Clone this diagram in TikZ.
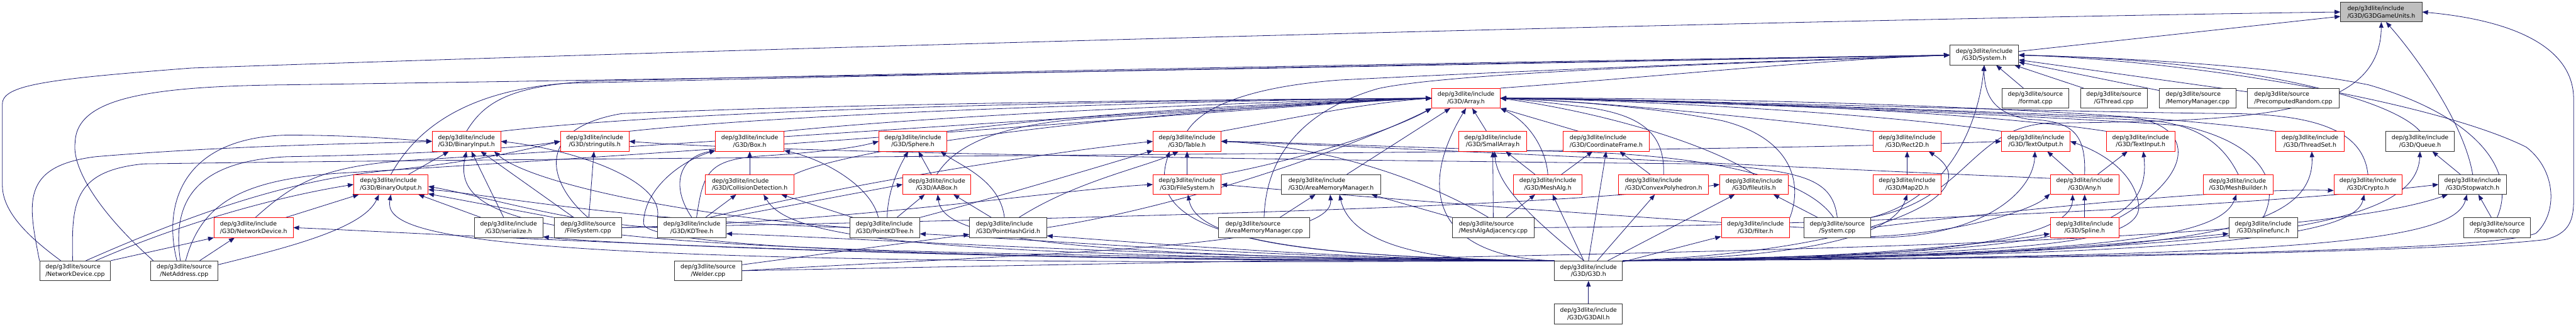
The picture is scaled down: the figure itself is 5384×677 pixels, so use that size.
\documentclass[tikz,border=0pt]{standalone}
\usepackage{fontspec}
\usepackage{xcolor}
\usepackage{tikz}
\usetikzlibrary{arrows.meta,calc}
\newfontfamily\doxfont{DejaVu Sans}
\definecolor{edgeblue}{HTML}{191970}
\pgfdeclarelayer{edges}
\pgfsetlayers{edges,main}

\begin{document}
\begin{tikzpicture}[
        x=0.03cm, y=0.03cm,
        % Styles
        incl/.style={
            rectangle,
            draw=black!80,
            fill=white,
            line width=0.9pt,
            minimum height=1.23cm,
            inner sep=2pt,
            align=center,
            font=\doxfont\fontsize{10.5}{13.3}\selectfont
        },
        trunc/.style={incl, draw=red},
        root/.style={incl, fill=black!25},
        flush/.style={align=left},
        dep/.style={
            -{Triangle[length=0.36cm,width=0.28cm]},
            draw=edgeblue,
            line width=0.9pt
        }
    ]
    \useasboundingbox (0,0) rectangle (5384,677);

    % Row 1
    \node[root, flush, minimum width=5.1cm] (gu) at (4977,652) {dep/g3dlite/include\\/G3D/G3DGameUnits.h};

    % Row 2
    \node[incl, minimum width=4.29cm] (sysh) at (4147,562) {dep/g3dlite/include\\/G3D/System.h};

    % Row 3
    \node[trunc, minimum width=4.29cm] (arr) at (3064,472) {dep/g3dlite/include\\/G3D/Array.h};
    \node[incl, minimum width=4.2cm] (fmt) at (4254,472) {dep/g3dlite/source\\/format.cpp};
    \node[incl, minimum width=4.17cm] (gthr) at (4418,472) {dep/g3dlite/source\\/GThread.cpp};
    \node[incl, flush, minimum width=4.8cm] (memm) at (4593,472) {dep/g3dlite/source\\/MemoryManager.cpp};
    \node[incl, flush, minimum width=5.76cm] (prnd) at (4793,472) {dep/g3dlite/source\\/PrecomputedRandom.cpp};

    % Row 4
    \node[trunc, minimum width=4.29cm] (bin) at (975,382) {dep/g3dlite/include\\/G3D/BinaryInput.h};
    \node[trunc, minimum width=4.29cm] (stru) at (1243,382) {dep/g3dlite/include\\/G3D/stringutils.h};
    \node[trunc, minimum width=4.29cm] (box) at (1567,382) {dep/g3dlite/include\\/G3D/Box.h};
    \node[trunc, minimum width=4.26cm] (sph) at (1908,382) {dep/g3dlite/include\\/G3D/Sphere.h};
    \node[trunc, minimum width=4.26cm] (tbl) at (2481,382) {dep/g3dlite/include\\/G3D/Table.h};
    \node[trunc, minimum width=4.26cm] (sarr) at (3120,382) {dep/g3dlite/include\\/G3D/SmallArray.h};
    \node[trunc, flush, minimum width=5.4cm] (cf) at (3357,382) {dep/g3dlite/include\\/G3D/CoordinateFrame.h};
    \node[trunc, minimum width=4.29cm] (r2d) at (3986,382) {dep/g3dlite/include\\/G3D/Rect2D.h};
    \node[trunc, minimum width=4.29cm] (tout) at (4255,382) {dep/g3dlite/include\\/G3D/TextOutput.h};
    \node[trunc, minimum width=4.29cm] (tin) at (4474,382) {dep/g3dlite/include\\/G3D/TextInput.h};
    \node[trunc, minimum width=4.29cm] (tset) at (4828,382) {dep/g3dlite/include\\/G3D/ThreadSet.h};
    \node[incl, minimum width=4.29cm] (que) at (5058,382) {dep/g3dlite/include\\/G3D/Queue.h};

    % Row 5
    \node[trunc, flush, minimum width=4.65cm] (bout) at (817,292) {dep/g3dlite/include\\/G3D/BinaryOutput.h};
    \node[trunc, flush, minimum width=5.55cm] (coll) at (1567,292) {dep/g3dlite/include\\/G3D/CollisionDetection.h};
    \node[trunc, minimum width=4.26cm] (aab) at (1958,292) {dep/g3dlite/include\\/G3D/AABox.h};
    \node[trunc, minimum width=4.26cm] (fsh) at (2481,292) {dep/g3dlite/include\\/G3D/FileSystem.h};
    \node[incl, flush, minimum width=6.21cm] (amm) at (2782,292) {dep/g3dlite/include\\/G3D/AreaMemoryManager.h};
    \node[trunc, minimum width=4.29cm] (malg) at (3235,292) {dep/g3dlite/include\\/G3D/MeshAlg.h};
    \node[trunc, flush, minimum width=5.64cm] (cpoly) at (3477,292) {dep/g3dlite/include\\/G3D/ConvexPolyhedron.h};
    \node[trunc, minimum width=4.29cm] (futil) at (3666,292) {dep/g3dlite/include\\/G3D/fileutils.h};
    \node[trunc, minimum width=4.29cm] (m2d) at (3986,292) {dep/g3dlite/include\\/G3D/Map2D.h};
    \node[trunc, minimum width=4.32cm] (any) at (4357,292) {dep/g3dlite/include\\/G3D/Any.h};
    \node[trunc, flush, minimum width=4.41cm] (mb) at (4678,292) {dep/g3dlite/include\\/G3D/MeshBuilder.h};
    \node[trunc, minimum width=4.26cm] (cry) at (4949,292) {dep/g3dlite/include\\/G3D/Crypto.h};
    \node[incl, minimum width=4.26cm] (swh) at (5168,292) {dep/g3dlite/include\\/G3D/Stopwatch.h};

    % Row 6
    \node[trunc, flush, minimum width=4.95cm] (ndh) at (530,202) {dep/g3dlite/include\\/G3D/NetworkDevice.h};
    \node[incl, minimum width=4.29cm] (ser) at (1063,202) {dep/g3dlite/include\\/G3D/serialize.h};
    \node[incl, minimum width=4.2cm] (fscpp) at (1229,202) {dep/g3dlite/source\\/FileSystem.cpp};
    \node[incl, minimum width=4.29cm] (kd) at (1446,202) {dep/g3dlite/include\\/G3D/KDTree.h};
    \node[incl, flush, minimum width=4.38cm] (pkd) at (1849,202) {dep/g3dlite/include\\/G3D/PointKDTree.h};
    \node[incl, flush, minimum width=4.83cm] (phg) at (2107,202) {dep/g3dlite/include\\/G3D/PointHashGrid.h};
    \node[incl, flush, minimum width=5.7cm] (ammcpp) at (2642,202) {dep/g3dlite/source\\/AreaMemoryManager.cpp};
    \node[incl, flush, minimum width=5.1cm] (maa) at (3121,202) {dep/g3dlite/source\\/MeshAlgAdjacency.cpp};
    \node[trunc, minimum width=4.29cm] (filt) at (3669,202) {dep/g3dlite/include\\/G3D/filter.h};
    \node[incl, minimum width=4.17cm] (syscpp) at (3840,202) {dep/g3dlite/source\\/System.cpp};
    \node[trunc, minimum width=4.32cm] (spl) at (4357,202) {dep/g3dlite/include\\/G3D/Spline.h};
    \node[incl, minimum width=4.29cm] (sfunc) at (4730,202) {dep/g3dlite/include\\/G3D/splinefunc.h};
    \node[incl, minimum width=4.2cm] (swcpp) at (5219,202) {dep/g3dlite/source\\/Stopwatch.cpp};

    % Row 7
    \node[incl, flush, minimum width=4.44cm] (ndcpp) at (157,112) {dep/g3dlite/source\\/NetworkDevice.cpp};
    \node[incl, minimum width=4.2cm] (nacpp) at (385,112) {dep/g3dlite/source\\/NetAddress.cpp};
    \node[incl, minimum width=4.2cm] (weld) at (1480,112) {dep/g3dlite/source\\/Welder.cpp};
    \node[incl, minimum width=4.26cm] (g3dh) at (3320,112) {dep/g3dlite/include\\/G3D/G3D.h};

    % Row 8
    \node[incl, minimum width=4.26cm] (all) at (3320,22) {dep/g3dlite/include\\/G3D/G3DAll.h};

    \begin{pgfonlayer}{edges}
    % into G3DGameUnits.h
    \draw[dep] (sysh) -- (gu);
    \draw[dep] (ndcpp.145) .. controls (70,175) and (5,230) .. (5,290) -- (5,460) .. controls (5,500) and (100,512) .. (400,535) .. controls (2000,590) and (4000,640) .. (gu.west);
    \draw[dep] (syscpp.north east) .. controls (4110,260) and (4120,410) .. (4280,420) .. controls (4700,425) and (4975,430) .. (gu.south);
    \draw[dep] (swh.north) .. controls (5150,420) and (5050,560) .. (gu.-65);
    \draw[dep] (g3dh.north east) .. controls (4200,135) and (5100,150) .. (5320,177) .. controls (5372,190) and (5379,220) .. (5379,260) -- (5379,470) .. controls (5379,580) and (5250,635) .. (gu.east);

    % into System.h
    \draw[dep] (fmt) -- (sysh);
    \draw[dep] (gthr) -- (sysh);
    \draw[dep] (memm) -- (sysh);
    \draw[dep] (prnd) -- (sysh);
    \draw[dep] (que.north) .. controls (5000,470) and (4700,552) .. (sysh.east);
    \draw[dep] (swcpp.north) .. controls (5265,330) and (5160,440) .. (4950,500) .. controls (4750,540) and (4450,556) .. (sysh.east);
    \draw[dep] (g3dh.north east) .. controls (4300,140) and (5200,150) .. (5300,190) .. controls (5345,230) and (5345,320) .. (5280,370) .. controls (5100,460) and (4600,550) .. (sysh.east);
    \draw[dep] (any.north) .. controls (4360,400) and (4330,425) .. (4240,428) .. controls (4165,440) and (4147,480) .. (sysh.south);
    \draw[dep] (syscpp.north east) .. controls (4075,265) and (4135,420) .. (sysh.south);
    \draw[dep] (arr.north east) .. controls (3500,520) and (3800,552) .. (sysh.west);
    \draw[dep] (bin.north) .. controls (1010,460) and (1060,500) .. (1250,508) .. controls (2600,540) and (3800,558) .. (sysh.west);
    \draw[dep] (bout.north) .. controls (860,390) and (950,485) .. (1180,503) .. controls (2600,538) and (3800,556) .. (sysh.west);
    \draw[dep] (nacpp.162) .. controls (200,240) and (150,330) .. (157,380) .. controls (160,470) and (300,497) .. (600,500) .. controls (2000,520) and (3700,555) .. (sysh.west);
    \draw[dep] (tbl.north) .. controls (2510,450) and (2600,495) .. (2800,510) .. controls (3300,535) and (3800,553) .. (sysh.west);
    \draw[dep] (ammcpp.north) .. controls (2645,330) and (2700,440) .. (2880,492) .. controls (3050,530) and (3800,550) .. (sysh.west);

    % into Array.h
    \draw[dep] (bin.north east) .. controls (1500,455) and (2500,468) .. (arr.west);
    \draw[dep] (stru.north east) .. controls (1700,445) and (2600,470) .. (arr.west);
    \draw[dep] (box.north east) .. controls (2000,440) and (2700,468) .. (arr.west);
    \draw[dep] (sph.north east) .. controls (2300,445) and (2750,466) .. (arr.west);
    \draw[dep] (tbl.north east) .. controls (2700,430) and (2850,462) .. (arr.west);
    \draw[dep] (aab.north) .. controls (2000,380) and (2100,420) .. (2300,432) .. controls (2600,450) and (2850,466) .. (arr.west);
    \draw[dep] (ndh.80) .. controls (620,300) and (680,335) .. (900,345) .. controls (1800,400) and (2700,465) .. (arr.west);
    \draw[dep] (nacpp.82) .. controls (420,250) and (500,300) .. (700,315) .. controls (1800,380) and (2700,460) .. (arr.west);
    \draw[dep] (fscpp.north) .. controls (1140,300) and (1120,410) .. (1300,440) .. controls (1900,465) and (2700,470) .. (arr.west);
    \draw[dep] (coll.north east) .. controls (1800,380) and (2500,455) .. (arr.west);
    \draw[dep] (fsh.north east) .. controls (2700,340) and (2900,400) .. (arr.south west);
    \draw[dep] (phg.east) .. controls (2500,250) and (2850,380) .. (arr.south west);
    \draw[dep] (g3dh.north west) .. controls (3000,140) and (2960,280) .. (arr.south);
    \draw[dep] (amm) -- (arr);
    \draw[dep] (sarr) -- (arr);
    \draw[dep] (malg.north) .. controls (3232,360) and (3200,420) .. (arr.south east);
    \draw[dep] (cf.160) -- (arr.south east);
    \draw[dep] (cpoly.north) .. controls (3480,400) and (3430,440) .. (3300,455) .. controls (3220,465) and (3170,470) .. (arr.east);
    \draw[dep] (futil.north) .. controls (3600,360) and (3400,435) .. (arr.east);
    \draw[dep] (filt.north east) .. controls (3770,300) and (3740,390) .. (3600,425) .. controls (3450,455) and (3250,468) .. (arr.east);
    \draw[dep] (r2d.north west) .. controls (3700,430) and (3300,468) .. (arr.east);
    \draw[dep] (tout.north west) .. controls (3900,445) and (3350,470) .. (arr.east);
    \draw[dep] (tin.north west) .. controls (4100,450) and (3400,472) .. (arr.east);
    \draw[dep] (tset.north west) .. controls (4400,455) and (3500,475) .. (arr.east);
    \draw[dep] (spl.north east) .. controls (4600,320) and (4580,420) .. (4450,432) .. controls (4000,450) and (3400,470) .. (arr.east);
    \draw[dep] (sfunc.north) .. controls (4770,300) and (4720,380) .. (4560,415) .. controls (4200,440) and (3400,470) .. (arr.east);
    \draw[dep] (mb.north) .. controls (4650,370) and (4600,415) .. (4500,425) .. controls (4100,445) and (3400,472) .. (arr.east);
    \draw[dep] (cry.north) .. controls (4940,400) and (4850,440) .. (4650,440) .. controls (4200,445) and (3400,472) .. (arr.east);

    % NetworkDevice.cpp and NetAddress.cpp
    \draw[dep] (ndcpp.north east) -- (ndh.south west);
    \draw[dep] (ndcpp.north west) .. controls (60,250) and (40,330) .. (200,350) .. controls (500,375) and (800,378) .. (bin.west);
    \draw[dep] (ndcpp.104) .. controls (150,250) and (150,320) .. (300,335) .. controls (1500,352) and (3500,355) .. (tout.west);
    \draw[dep] (ndcpp.43) .. controls (400,230) and (600,300) .. (800,320) .. controls (1000,340) and (1100,365) .. (stru.west);
    \draw[dep] (ndcpp.26) .. controls (400,220) and (600,270) .. (bout.west);
    \draw[dep] (nacpp.33) -- (ndh.-152);
    \draw[dep] (nacpp.126) .. controls (340,250) and (380,390) .. (600,395) .. controls (750,395) and (850,385) .. (bin.west);
    \draw[dep] (nacpp.111) .. controls (360,250) and (400,340) .. (600,350) .. controls (900,355) and (1100,370) .. (stru.west);
    \draw[dep] (nacpp.10) .. controls (600,160) and (760,200) .. (bout.-140);
    \draw[dep] (ndh) -- (bout);
    \draw[dep] (bout) -- (bin);

    % FileSystem.cpp, serialize.h
    \draw[dep] (fscpp) -- (bin);
    \draw[dep] (fscpp) -- (stru);
    \draw[dep] (fscpp.north west) -- (bout.-14);
    \draw[dep] (fscpp.east) .. controls (1800,215) and (2200,280) .. (fsh.west);
    \draw[dep] (fscpp.east) .. controls (2500,225) and (3300,250) .. (futil.west);
    \draw[dep] (ser) -- (bin);
    \draw[dep] (ser) -- (bout);

    % KDTree.h, PointKDTree.h, PointHashGrid.h
    \draw[dep] (kd.north) .. controls (1400,290) and (1420,350) .. (box.195);
    \draw[dep] (kd) -- (coll);
    \draw[dep] (kd.65) .. controls (1470,320) and (1480,345) .. (1600,352) .. controls (1750,362) and (1800,372) .. (sph.west);
    \draw[dep] (kd.north east) -- (aab.west);
    \draw[dep] (kd.30) .. controls (1800,300) and (2200,360) .. (tbl.west);
    \draw[dep] (kd.north west) .. controls (1390,300) and (1200,365) .. (bin.east);
    \draw[dep] (kd.west) .. controls (1200,210) and (1000,270) .. (bout.-3);
    \draw[dep] (pkd.76) .. controls (1855,280) and (1880,330) .. (sph.-115);
    \draw[dep] (pkd) -- (aab);
    \draw[dep] (pkd) -- (coll);
    \draw[dep] (pkd.122) .. controls (1820,290) and (1720,345) .. (box.-15);
    \draw[dep] (pkd.north east) .. controls (2100,270) and (2300,330) .. (tbl.195);
    \draw[dep] (pkd.west) .. controls (1400,230) and (1100,300) .. (bin.-20);
    \draw[dep] (pkd.west) .. controls (1300,215) and (1000,275) .. (bout.-8);
    \draw[dep] (phg) -- (aab);
    \draw[dep] (phg.43) .. controls (2250,300) and (2400,330) .. (tbl.-130);
    \draw[dep] (phg.110) .. controls (2090,300) and (2010,330) .. (sph.-20);
    \draw[dep] (coll) -- (box);
    \draw[dep] (aab) -- (sph);
    \draw[dep] (fsh) -- (tbl);

    % memory managers, mesh files
    \draw[dep] (ammcpp) -- (amm);
    \draw[dep] (maa.north) -- (sarr.south);
    \draw[dep] (maa) -- (malg);
    \draw[dep] (maa.north west) -- (amm.-14);
    \draw[dep] (maa.115) .. controls (3000,290) and (2800,370) .. (tbl.east);
    \draw[dep] (maa.east) .. controls (3800,205) and (4700,245) .. (swh.west);
    \draw[dep] (malg) -- (sarr);
    \draw[dep] (malg) -- (cf);
    \draw[dep] (cpoly) -- (cf);
    \draw[dep] (m2d) -- (r2d);

    % Any.h, Spline.h, Stopwatch
    \draw[dep] (spl) -- (any);
    \draw[dep] (any) -- (tout);
    \draw[dep] (any) -- (tin);
    \draw[dep] (any.170) .. controls (3800,325) and (2900,370) .. (tbl.east);
    \draw[dep] (swh) -- (que);
    \draw[dep] (swcpp) -- (swh);

    % System.cpp
    \draw[dep] (syscpp) -- (futil);
    \draw[dep] (syscpp.-15) .. controls (4100,190) and (4250,240) .. (any.-165);
    \draw[dep] (syscpp.south east) .. controls (4150,180) and (4250,280) .. (tout.-95);
    \draw[dep] (syscpp.north) .. controls (3830,300) and (3780,322) .. (3550,335) .. controls (2500,345) and (1600,360) .. (stru.east);
    \draw[dep] (syscpp.110) .. controls (3780,300) and (3600,350) .. (3300,360) .. controls (2900,370) and (2700,380) .. (tbl.east);
    \draw[dep] (syscpp.east) .. controls (4300,250) and (4700,285) .. (cry.190);
    \draw[dep] (syscpp.west) .. controls (3300,230) and (2800,270) .. (fsh.east);

    % Welder.cpp
    \draw[dep] (weld.10) -- (phg.190);
    \draw[dep] (weld.east) .. controls (2200,150) and (2790,160) .. (amm.-95);
    \draw[dep] (weld.east) .. controls (3500,150) and (4800,160) .. (swh.-158);

    % G3D.h, to the left
    \draw[dep] (g3dh.north west) .. controls (1300,150) and (930,170) .. (bin.south);
    \draw[dep] (g3dh.north west) .. controls (1000,118) and (800,180) .. (bout.south);
    \draw[dep] (g3dh.north west) .. controls (2000,125) and (900,190) .. (ndh.east);
    \draw[dep] (g3dh.north west) .. controls (2200,130) and (1300,165) .. (ser.-15);
    \draw[dep] (g3dh.north west) .. controls (2500,135) and (1800,180) .. (kd.-10);
    \draw[dep] (g3dh.north west) .. controls (2700,135) and (2200,175) .. (pkd.-10);
    \draw[dep] (g3dh.north west) .. controls (2800,135) and (2400,170) .. (phg.-12);
    \draw[dep] (g3dh.north west) .. controls (2000,135) and (1350,160) .. (1345,210) .. controls (1345,280) and (1420,340) .. (box.195);
    \draw[dep] (g3dh.north west) .. controls (1900,140) and (1650,180) .. (coll.-36);
    \draw[dep] (g3dh.north west) .. controls (2200,140) and (1970,180) .. (aab.-85);
    \draw[dep] (g3dh.north west) .. controls (2600,140) and (2390,200) .. (tbl.-150);
    \draw[dep] (g3dh.north west) .. controls (2700,140) and (2500,180) .. (fsh.-85);
    \draw[dep] (g3dh.north west) .. controls (2950,125) and (2820,180) .. (amm.-50);
    \draw[dep] (g3dh.115) .. controls (3230,200) and (3130,280) .. (sarr.-80);

    % G3D.h, to the right
    \draw[dep] (g3dh.north) -- (cf.south);
    \draw[dep] (g3dh) -- (malg);
    \draw[dep] (g3dh) -- (cpoly);
    \draw[dep] (g3dh) -- (futil);
    \draw[dep] (g3dh) -- (filt);
    \draw[dep] (g3dh.north east) .. controls (3900,150) and (4170,270) .. (r2d.-25);
    \draw[dep] (g3dh.north east) .. controls (3800,140) and (3960,190) .. (m2d.south);
    \draw[dep] (g3dh.north east) .. controls (4000,135) and (4330,170) .. (any.-140);
    \draw[dep] (g3dh.north east) .. controls (4200,150) and (4480,160) .. (4470,250) .. controls (4460,320) and (4390,360) .. (tout.east);
    \draw[dep] (g3dh.north east) .. controls (4300,150) and (4500,180) .. (tin.-75);
    \draw[dep] (g3dh.north east) .. controls (4500,145) and (4840,170) .. (tset.-80);
    \draw[dep] (g3dh.north east) .. controls (4700,150) and (5050,200) .. (que.south);
    \draw[dep] (g3dh.north east) .. controls (4400,145) and (4640,180) .. (mb.-100);
    \draw[dep] (g3dh.north east) .. controls (4600,145) and (4920,180) .. (cry.-110);
    \draw[dep] (g3dh.north east) .. controls (4800,140) and (5130,170) .. (swh.-120);
    \draw[dep] (g3dh.north east) .. controls (3800,135) and (4100,160) .. (spl.190);
    \draw[dep] (g3dh.north east) .. controls (4000,130) and (4400,165) .. (sfunc.190);

    % G3DAll.h
    \draw[dep] (all) -- (g3dh);
    \end{pgfonlayer}

\end{tikzpicture}
\end{document}
